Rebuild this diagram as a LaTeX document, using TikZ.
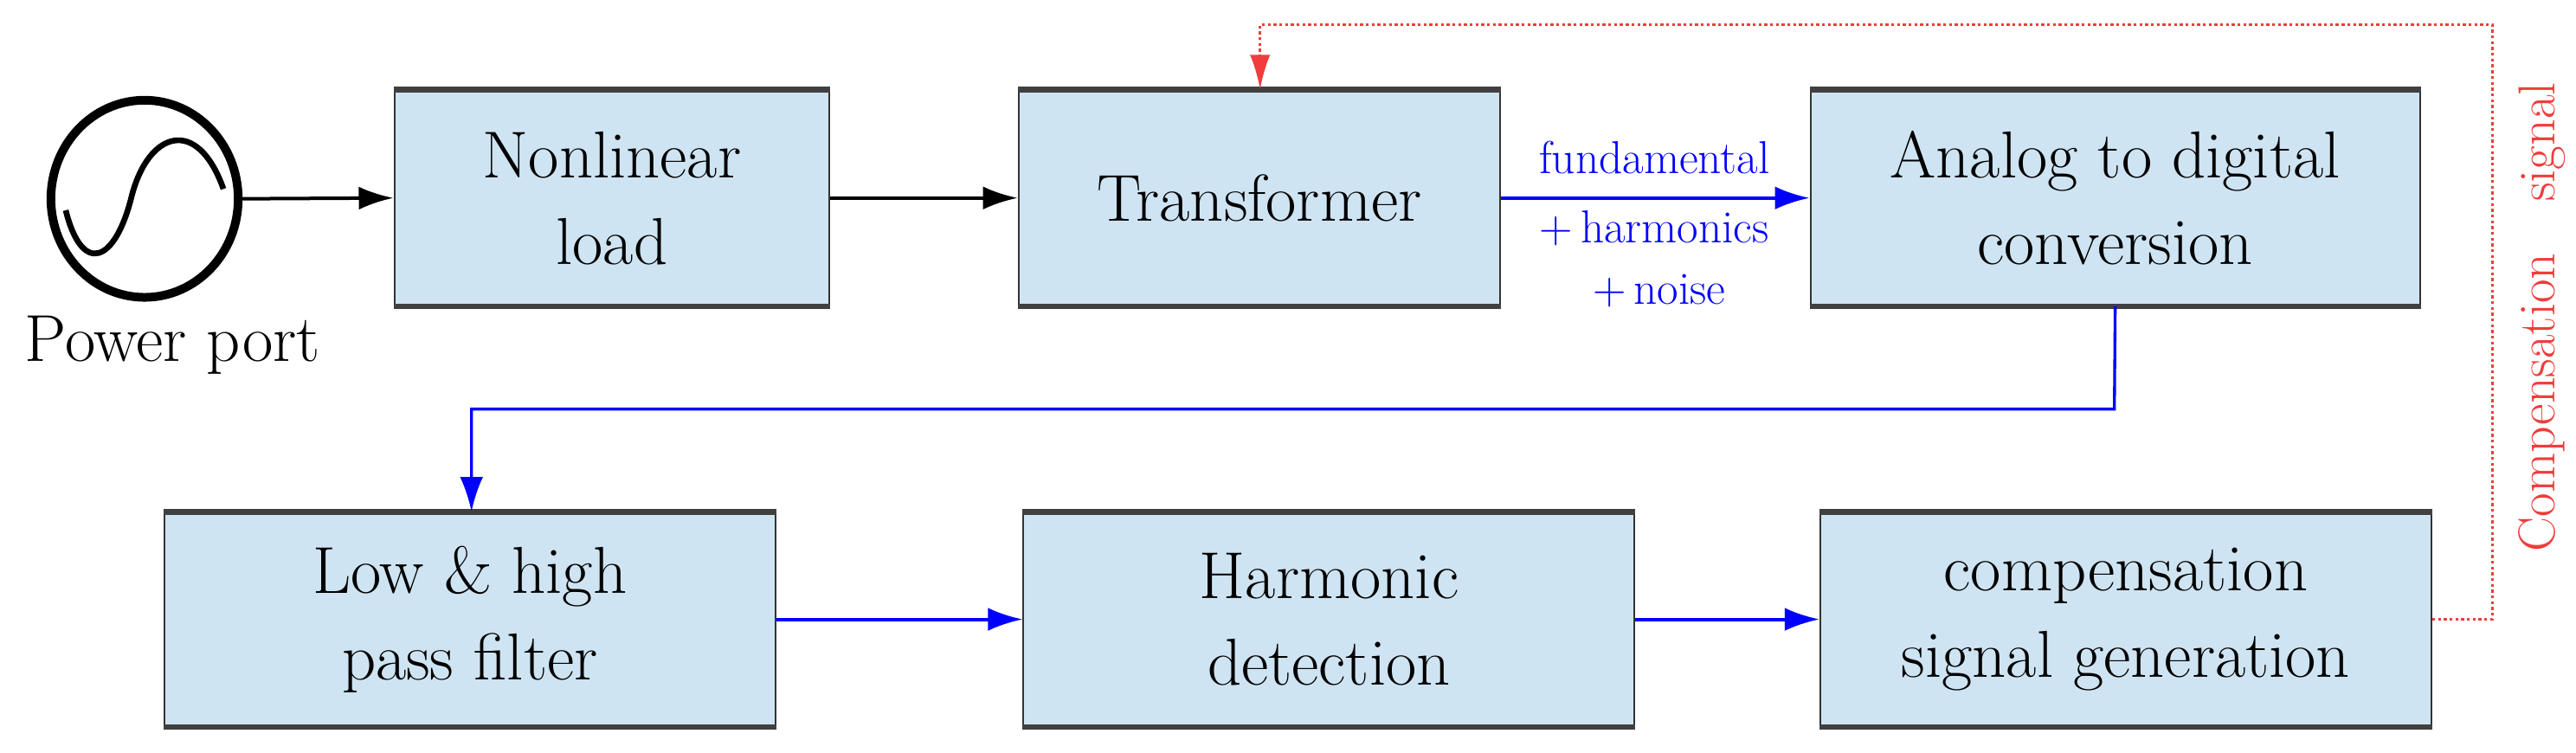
\documentclass[tikz,border=0pt]{standalone}
\usepackage{fontspec}
\usetikzlibrary{arrows.meta,shapes.geometric}
\definecolor{boxfill}{RGB}{207,228,242}
\definecolor{cred}{RGB}{240,60,60}
\begin{document}
\begin{tikzpicture}[x=0.02cm,y=-0.02cm,
  blk/.style={draw=black!80,fill=boxfill,line width=0.6pt,inner sep=0pt,align=center,font=\fontsize{23}{30}\selectfont},
  arr/.style={-{Latex[length=12pt,width=8pt]},line width=1.2pt},
  barr/.style={arr,blue},
  lbl/.style={blue,font=\fontsize{16}{18}\selectfont}]
\useasboundingbox (0,0) rectangle (1568,458);
\node[blk,minimum width=265*0.02cm,minimum height=131*0.02cm] (nl) at (372.5,120.5) {Nonlinear\\load};
\node[blk,minimum width=293*0.02cm,minimum height=131*0.02cm] (tr) at (766.5,120.5) {Transformer};
\node[blk,minimum width=371*0.02cm,minimum height=131*0.02cm] (adc) at (1287.5,120.5) {Analog to digital\\conversion};
\node[blk,minimum width=372*0.02cm,minimum height=130*0.02cm] (lp) at (286,377) {Low \& high\\pass filter};
\node[blk,minimum width=372*0.02cm,minimum height=130*0.02cm] (hd) at (809,377) {Harmonic\\detection};
\node[blk,minimum width=372*0.02cm,minimum height=130*0.02cm] (cs) at (1294,377) {compensation\\signal generation};
\foreach \n in {nl,tr,adc,lp,hd,cs}{
  \draw[line width=2pt,black!75] (\n.north west)--(\n.north east);
  \draw[line width=2pt,black!75] (\n.south west)--(\n.south east);}
\node[draw,line width=3pt,ellipse,minimum width=114*0.02cm,minimum height=120*0.02cm,inner sep=0pt] (src) at (88,121) {};
\draw[line width=2pt] (40,128) .. controls (50,168) and (70,160) .. (80,120) .. controls (90,80) and (120,70) .. (136,115);
\node[font=\fontsize{23}{26}\selectfont] (pp) at (105,210) {Power port};
\draw[arr] (src.east) -- (nl.west);
\draw[arr] (nl.east) -- (tr.west);
\draw[barr] (tr.east) -- (adc.west);
\node[lbl] (l1) at (1007,96) {fundamental};
\node[lbl] (l2) at (1007,139) {+\,harmonics};
\node[lbl] (l3) at (1010,177) {+\,noise};
\draw[barr,line width=1pt] (adc.south) -- (1287,249) -- (287,249) -- (lp.north -| 287,0);
\draw[barr] (lp.east) -- (hd.west);
\draw[barr] (hd.east) -- (cs.west);
\coordinate (c1) at (1517,377);
\coordinate (c2) at (1517,15);
\coordinate (c3) at (767,15);
\draw[cred,densely dotted,line width=1pt,-{Latex[length=12pt,width=7pt]}] (cs.east) -- (c1) -- (c2) -- (c3) -- (tr.north -| c3);
\node[cred,rotate=90,font=\fontsize{18}{20}\selectfont] (cl) at (1547,193) {Compensation\quad signal};
\end{tikzpicture}
\end{document}
